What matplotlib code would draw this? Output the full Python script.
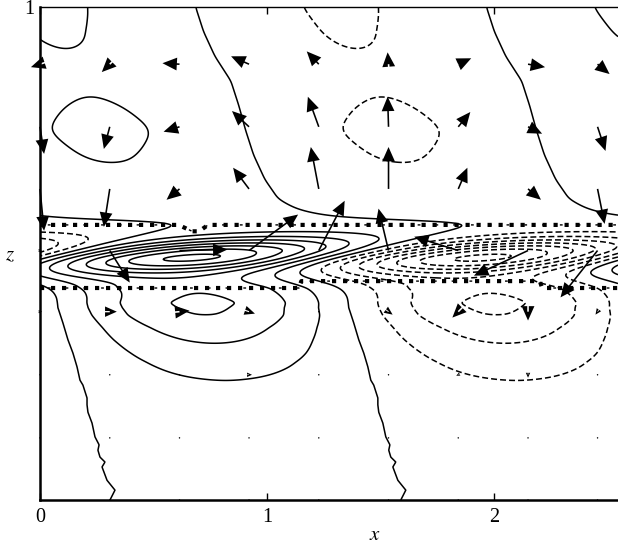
import numpy as np
import matplotlib
matplotlib.use("Agg")
import matplotlib.pyplot as plt

plt.rcParams["font.family"] = ["Liberation Serif", "DejaVu Serif"]
plt.rcParams["mathtext.fontset"] = "stix"

# ---- domain -------------------------------------------------------------
L = 2.56                     # horizontal period
k = 2 * np.pi / L
x_max = 2.544

# ---- upper layer: phase of the positive cell and amplitude vs height ----
zu = [0.575, 0.59, 0.61, 0.65, 0.70, 0.75, 0.80, 0.85, 0.90, 0.95, 1.0]
cu = [0.60, 0.49, 0.41, 0.35, 0.30, 0.265, 0.235, 0.20, 0.13, 0.08, 0.045]
za = [0.50, 0.56, 0.60, 0.64, 0.682, 0.75, 0.815, 0.87, 0.933, 1.0]
au = [0.0, 0.0, 0.45, 0.80, 1.00, 1.17, 1.00, 0.92, 1.03, 1.09]

# ---- lower layer ---------------------------------------------------------
zl = [0.0, 0.020, 0.040, 0.067, 0.077, 0.087, 0.101, 0.112, 0.128, 0.156,
      0.178, 0.193, 0.207, 0.233, 0.243, 0.270, 0.298, 0.325, 0.359, 0.390,
      0.410, 0.432, 0.50]
cl = [0.948, 0.970, 0.935, 0.913, 0.926, 0.904, 0.895, 0.900, 0.882, 0.869,
      0.851, 0.847, 0.847, 0.829, 0.816, 0.803, 0.785, 0.763, 0.741, 0.719,
      0.715, 0.706, 0.70]
zb = [0.0, 0.05, 0.10, 0.15, 0.20, 0.243, 0.28, 0.318, 0.35, 0.375, 0.40, 0.43, 0.46, 0.50]
al = [0.02, 0.10, 0.25, 0.45, 0.70, 1.00, 1.45, 2.00, 2.50, 3.00, 3.20, 2.90, 1.60, 0.0]

# ---- shear layer ---------------------------------------------------------
zm = [0.40, 0.466, 0.52, 0.60]
cm = [-0.15, 0.44, 0.92, 1.65]
layer_peak, layer_centre, layer_width = 7.0, 0.495, 0.025

# ---- interfaces ------------------------------------------------------------
xi_up = [0.0, 0.61, 0.67, 0.70, 0.74, x_max]
zi_up = [0.558, 0.558, 0.545, 0.545, 0.558, 0.558]
xi_lo = [0.0, 1.14, 1.15, 2.20, 2.21, x_max]
zi_lo = [0.430, 0.430, 0.444, 0.444, 0.430, 0.430]

# ---- velocity samples --------------------------------------------------------
xq = [0.0, 0.307, 0.614, 0.920, 1.227, 1.534, 1.841, 2.148, 2.454]
zq = [0.0, 0.126, 0.254, 0.382, 0.506, 0.631, 0.757, 0.884]
# horizontal / vertical components (x-units, z-units), rows bottom to top
uq = np.array([
    [0, 0, 0, 0, 0, 0, 0, 0, 0],
    [0, 0, 0, 0, 0, 0, 0, 0, 0],
    [0, 0, 0.002, 0.013, 0, 0, -0.009, 0, -0.004],
    [0.009, 0.031, 0.044, 0.026, 0.004, 0.018, -0.026, 0.0, -0.009],
    [0.009, 0.088, 0.211, 0.216, 0.114, -0.044, -0.194, -0.238, -0.163],
    [0.018, -0.026, -0.057, -0.070, -0.035, 0.0, 0.040, 0.057, 0.031],
    [0.018, -0.026, -0.070, -0.075, -0.048, -0.004, 0.053, 0.062, 0.035],
    [-0.040, -0.035, -0.075, -0.079, -0.053, -0.004, 0.057, 0.075, 0.053],
])
wq = np.array([
    [0, 0, 0, 0, 0, 0, 0, 0, 0],
    [0, 0, 0, 0, 0, 0, 0, 0, 0],
    [0, 0, 0, 0, 0, 0, -0.002, -0.006, -0.002],
    [0, 0, 0.002, -0.004, 0, -0.006, -0.012, -0.018, -0.006],
    [0, -0.065, 0.002, 0.073, 0.101, 0.085, 0.028, -0.051, -0.095],
    [-0.085, -0.077, -0.022, 0.043, 0.085, 0.085, 0.043, -0.022, -0.071],
    [-0.055, -0.045, -0.010, 0.032, 0.061, 0.061, 0.030, -0.014, -0.049],
    [-0.006, -0.016, 0.002, 0.016, 0.026, 0.024, 0.012, -0.006, -0.020],
])

# ---- build the stream-function field ----------------------------------------
x = np.linspace(0, x_max, 420)
z = np.linspace(0, 1, 700)
X, Z = np.meshgrid(x, z)


def profile(zt, vals, width=9):
    """Piecewise-linear profile in z, lightly smoothed."""
    p = np.interp(z, zt, vals)
    ker = np.hanning(width)
    ker /= ker.sum()
    pad = np.pad(p, width // 2, mode="edge")
    return np.convolve(pad, ker, mode="valid")[:, None]


psi_up = profile(za, au, 41) * np.cos(k * (X - profile(zu, cu, 21)))
psi_lo = profile(zb, al, 9) * np.cos(k * (X - np.interp(z, zl, cl)[:, None]))
B = layer_peak * np.exp(-(z[:, None] - layer_centre) ** 2 / (2 * layer_width ** 2))
psi_mid = B * np.cos(k * (X - np.interp(z, zm, cm)[:, None]))
psi = psi_up + psi_lo + psi_mid

levels = np.arange(-9, 10, 1)
styles = [(0, (3.9, 2.0)) if lv < 0 else "solid" for lv in levels]

# ---- figure -------------------------------------------------------------------
fig = plt.figure(figsize=(6.18, 5.45), dpi=100)
ax = fig.add_axes([40 / 618, 45 / 545, 578 / 618, 493 / 545])

ax.contour(X, Z, psi, levels=levels, colors="black", linewidths=1.1,
           linestyles=styles)

for zi, xi in ((zi_up, xi_up), (zi_lo, xi_lo)):
    ax.plot(xi, zi, color="black", lw=3.0, dashes=(1.0, 1.64),
            dash_capstyle="butt", solid_capstyle="butt")
    ax.plot(xi, zi, color="black", lw=1.0, dashes=(0, 5.6, 2.0, 5.2),
            dash_capstyle="butt")

XQ, ZQ = np.meshgrid(xq, zq)
ax.quiver(XQ, ZQ, uq, wq, angles="xy", scale_units="xy", scale=1,
          units="dots", width=1.6, headwidth=8, headlength=9,
          headaxislength=9, minshaft=0.6, color="black", pivot="tail",
          zorder=5, clip_on=False)

ax.set_xlim(0, x_max)
ax.set_ylim(0, 1)
ax.set_xticks([0, 1, 2])
ax.set_xticklabels(["0", "1", "2"])
ax.set_yticks([1])
ax.set_yticklabels(["1"])
ax.tick_params(direction="in", length=5, width=1, labelsize=14.5,
               top=True, right=False, pad=6)
ax.tick_params(axis="y", length=0, pad=4)
ax.spines["right"].set_visible(False)
ax.spines["left"].set_linewidth(1.8)
ax.spines["bottom"].set_linewidth(1.8)
ax.spines["top"].set_linewidth(1.0)

ax.set_xlabel("$x$", fontsize=15)
ax.xaxis.set_label_coords((375 - 40) / 578, -0.052)
ax.set_ylabel("$z$", fontsize=15, rotation=0, va="center")
ax.yaxis.set_label_coords(-0.052, 0.495)

fig.savefig("out.png", dpi=100)
